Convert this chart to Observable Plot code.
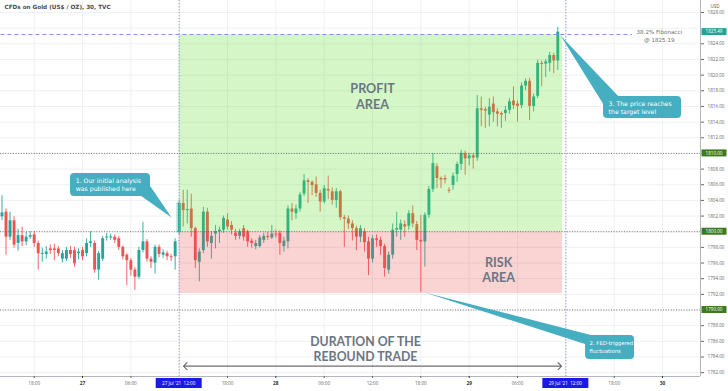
<!DOCTYPE html>
<html><head><meta charset="utf-8">
<script src="https://cdn.jsdelivr.net/npm/d3@7"></script>
<script src="https://cdn.jsdelivr.net/npm/@observablehq/plot@0.6"></script>
<style>html,body{margin:0;padding:0;background:#fff;}#chart{width:728px;height:391px;}</style>
</head><body><div id="chart"></div>
<script>
// ---- candle data (30-minute bars, Gold CFD) ----
const candleStart = "2021-07-26T14:00:00Z";
const candleMinutes = 30;
const opens = [
1801.9,1802.5,1799.3,1801.4,1798.5,1799.5,1798.7,1799.3,1799.6,1798.5,
1797.1,1797.1,1797.8,1797.8,1797.8,1796.5,1796.5,1797.6,1797.6,1797.2,
1797.6,1797.2,1798.5,1798.5,1795.1,1796.5,1799.2,1799.2,1799.3,1799.1,
1798.0,1797.0,1796.3,1795.1,1794.2,1797.6,1798.7,1796.5,1796.0,1798.0,
1797.0,1797.2,1796.8,1796.8,1799.9,
1803.6,1802.7,1802.9,1800.4,1796.1,1797.6,1802.5,1798.5,1799.7,1800.0,
1800.2,1801.5,1800.8,1799.8,1799.4,1800.4,1800.0,1798.8,1798.1,1798.1,1798.9,
1799.4,1799.2,1799.7,1799.8,1798.1,1798.7,1802.9,1802.3,1802.9,1804.8,
1806.5,1806.3,1806.0,1804.9,1803.8,1805.4,1805.1,1804.0,1805.1,1801.8,
1801.6,1801.0,1800.4,1799.3,1800.0,1798.7,
1796.5,1799.1,1798.9,1798.1,1795.1,1797.0,1800.2,1800.2,1800.9,1800.7,
1802.3,1800.9,1798.9,1798.7,1802.1,1805.4,1808.3,1806.8,1806.8,1805.3,
1805.9,1807.3,1808.6,1810.0,1809.3,1809.7,1809.4,1815.7,1815.6,1814.9,
1816.3,1815.3,1815.1,1815.1,1815.5,1816.7,1816.3,1816.1,1818.6,1819.2,
1816.0,1817.3,1821.5,1821.4,1821.5,1822.5,1821.8];
const highs = [
1804.6,1802.9,1802.5,1801.9,1800.3,1800.6,1799.9,1800.0,1800.0,1798.8,
1797.9,1798.1,1798.3,1798.4,1798.1,1797.6,1798.0,1798.1,1798.0,1797.8,
1798.0,1799.1,1800.0,1798.8,1797.5,1799.4,1799.8,1799.7,1799.6,1799.4,
1798.2,1797.2,1796.6,1795.4,1798.0,1801.2,1799.0,1796.8,1798.3,1798.3,
1797.7,1797.5,1797.1,1799.1,1804.0,
1805.3,1805.3,1804.8,1800.6,1797.8,1803.1,1803.0,1800.0,1800.8,1800.6,
1802.0,1802.3,1801.3,1800.3,1800.3,1800.8,1800.2,1799.1,1798.9,1799.5,1799.8,
1799.9,1800.8,1800.2,1800.1,1799.3,1803.3,1803.6,1803.4,1805.0,1807.3,
1806.8,1806.5,1807.0,1805.3,1805.9,1807.1,1805.6,1805.5,1805.3,1802.1,
1802.0,1801.4,1800.7,1800.8,1800.4,1799.3,
1799.5,1799.6,1799.3,1798.4,1797.4,1801.0,1802.5,1801.5,1801.4,1802.7,
1803.3,1801.3,1802.1,1802.4,1805.8,1810.0,1808.7,1807.0,1807.2,1805.6,
1807.5,1808.9,1810.4,1810.3,1810.0,1810.0,1817.4,1817.2,1815.9,1817.0,
1817.2,1815.7,1815.3,1816.0,1817.0,1818.5,1816.7,1819.0,1819.5,1819.6,
1817.6,1821.9,1821.8,1822.0,1822.9,1822.8,1826.1];
const lows = [
1801.4,1797.0,1798.9,1797.9,1797.5,1798.1,1798.2,1799.0,1798.0,1795.1,
1796.1,1796.5,1797.1,1796.3,1796.8,1796.0,1796.2,1796.6,1795.5,1796.4,
1796.3,1796.8,1798.0,1794.7,1793.8,1796.2,1798.8,1798.9,1798.5,1797.6,
1796.4,1793.1,1794.3,1792.5,1793.9,1797.3,1796.1,1795.3,1794.6,1796.7,
1796.6,1796.3,1796.2,1795.1,1799.6,
1800.6,1801.0,1799.3,1795.3,1793.6,1797.2,1798.0,1796.5,1797.8,1798.5,
1799.8,1800.2,1799.6,1798.9,1799.0,1798.8,1798.0,1797.9,1797.7,1797.9,1798.5,
1798.9,1799.0,1799.2,1797.0,1797.4,1797.8,1801.4,1801.6,1802.5,1804.5,
1803.6,1804.6,1804.4,1802.5,1803.6,1804.1,1803.4,1803.0,1801.4,1798.0,
1800.3,1798.8,1797.6,1798.6,1797.4,1794.4,
1796.0,1798.0,1797.0,1794.2,1794.6,1796.5,1799.3,1798.9,1799.3,1800.2,
1800.5,1797.6,1792.3,1795.5,1801.7,1805.0,1805.5,1805.5,1806.1,1804.9,
1805.3,1806.3,1807.8,1807.2,1808.4,1808.0,1809.0,1813.4,1813.2,1813.4,
1814.0,1813.4,1813.2,1814.1,1815.0,1815.6,1814.0,1815.7,1818.0,1814.2,
1815.3,1817.0,1818.5,1819.7,1820.4,1820.2,1820.6];
const closes = [
1802.4,1799.3,1801.4,1798.3,1799.5,1798.7,1799.3,1799.5,1798.5,1797.2,
1797.2,1797.4,1797.6,1797.6,1797.2,1797.2,1797.6,1797.1,1795.9,1797.4,
1796.8,1798.5,1798.7,1795.1,1797.2,1799.1,1799.3,1799.3,1798.9,1798.0,
1796.8,1796.3,1795.1,1794.2,1797.6,1798.7,1796.5,1796.1,1798.0,1797.1,
1797.3,1796.8,1796.7,1798.7,1803.6,
1802.7,1802.8,1800.4,1796.3,1797.4,1802.5,1798.7,1799.4,1800.0,1800.2,
1801.7,1800.6,1800.2,1799.4,1800.0,1799.3,1798.7,1798.5,1798.5,1799.2,1799.4,
1799.3,1799.7,1799.6,1798.5,1798.8,1802.9,1802.5,1802.9,1804.7,1806.5,
1806.3,1805.9,1804.9,1803.8,1805.5,1805.2,1804.0,1805.1,1801.8,1801.6,
1801.0,1800.4,1799.3,1800.4,1798.6,1796.5,
1799.1,1798.9,1798.1,1795.3,1797.0,1800.2,1800.4,1801.0,1800.6,1802.3,
1801.0,1798.9,1798.7,1802.1,1805.4,1808.7,1806.8,1806.6,1806.6,1805.2,
1807.1,1808.6,1810.0,1809.3,1809.7,1809.4,1815.7,1815.5,1815.4,1815.9,
1815.2,1815.0,1814.9,1815.5,1816.6,1816.1,1816.0,1818.6,1819.2,1816.0,
1817.2,1821.5,1821.4,1821.7,1822.5,1821.8,1825.49];

// ---- scale / axis settings ----
const xDomain = ["2021-07-26T13:49:00Z", "2021-07-30T04:43:00Z"];
const yDomain = [1781.51, 1829.53];
const priceTicks = d3.range(1782, 1829, 2);
const hiddenPriceLabels = [1826, 1810, 1800, 1790];          // covered by the price badges
const gridHours = [-6, 0, 6, 12, 18, 24, 30, 36, 42, 48, 54, 60, 66, 72]; // hours from 27 Jul 00:00 UTC
const hourTickHours = [-6, 6, 18, 30, 36, 42, 54, 66];
const dayTickHours = [0, 24, 48, 72];
const dayTickLabels = ["27", "28", "29", "30"];

// ---- levels & zones ----
const levelPrices = [1810, 1800, 1790];
const fibPrice = 1825.19;
const lastPrice = 1825.49;
const markerHours = [12, 60];
const zoneNames = ["profit", "risk"];
const zoneTop = [1825.19, 1800];
const zoneBottom = [1800, 1792.1];
const zoneFill = ["rgb(87,223,35)", "rgb(235,79,79)"];
const zoneStartHour = 12, zoneEndHour = 59.6;

// ---- annotations (hours from 27 Jul 00:00 UTC, price) ----
const bigLabels = [["PROFIT", "AREA"], ["RISK", "AREA"], ["DURATION OF THE", "REBOUND TRADE"]];
const bigLabelHour = [36.0, 51.65, 35.13];
const bigLabelPrice = [[1818.17, 1816.23], [1796.07, 1794.13], [1785.95, 1784.05]];
const bigLabelSize = [12.6, 12.6, 12.3];

const calloutText = [["1. Our initial analysis", "was published here"], ["2. FED-triggered", "fluctuations"], ["3. The price reaches", "the target level"]];
const calloutSize = [6.2, 5.3, 6.2];
const calloutBoxHours = [[-1.49, 8.44], [62.45, 68.53], [64.68, 74.36]];
const calloutBoxPrices = [[1807.44, 1804.50], [1786.75, 1783.68], [1817.27, 1814.46]];
const calloutTextHour = [-0.85, 62.95, 65.3];
const calloutTextPrice = [[1806.50, 1805.50], [1785.72, 1784.74], [1816.32, 1815.33]];
const calloutTailHours = [[7.2, 8.44, 11.05], [42.46, 64.31, 62.57], [59.34, 64.68, 66.67]];
const calloutTailPrices = [[1804.63, 1805.78, 1801.82], [1792.24, 1786.49, 1785.60], [1825.06, 1816.25, 1817.14]];

const arrowHours = [12.54, 59.47];
const arrowPrice = 1782.83;
const fibLineEndHour = 68.28;
const fibLabel = ["38.2% Fibonacci", "@ 1825.19"];
const fibLabelHour = 71.6, fibLabelPrice = [1825.45, 1824.5];
const title = "CFDs on Gold (US$ / OZ), 30, TVC";

// ---- helpers ----
const base = Date.UTC(2021, 6, 27);
const H = h => new Date(base + h * 3600e3);
const t0 = +new Date(candleStart);
const candles = opens.map((o, i) => ({
  t: new Date(t0 + i * candleMinutes * 60000),
  o, h: highs[i], l: lows[i], c: closes[i], up: closes[i] >= o
}));
const UP = "#26a69a", DOWN = "#ef5350";
const bodyEnd = d => Math.abs(d.c - d.o) < 0.13 ? d.o + (d.up ? 0.13 : -0.13) : d.c;
const CALLOUT_FONT = "'DejaVu Sans', sans-serif";

const zones = zoneNames.map((n, i) => ({x1: H(zoneStartHour), x2: H(zoneEndHour), y1: zoneBottom[i], y2: zoneTop[i], fill: zoneFill[i]}));
const labels = bigLabels.flatMap((ls, i) => ls.map((s, j) => ({x: H(bigLabelHour[i]), y: bigLabelPrice[i][j], text: s, size: bigLabelSize[i]})));
const boxes = calloutText.map((s, i) => ({x1: H(calloutBoxHours[i][0]), x2: H(calloutBoxHours[i][1]), y1: calloutBoxPrices[i][1], y2: calloutBoxPrices[i][0]}));
const lines = calloutText.flatMap((ls, i) => ls.map((s, j) => ({x: H(calloutTextHour[i]), y: calloutTextPrice[i][j], text: s, size: calloutSize[i]})));
const tails = calloutTailHours.flatMap((hs, i) => hs.map((h, j) => ({id: i, x: H(h), y: calloutTailPrices[i][j]})));
const fibLines = fibLabel.map((s, j) => ({x: H(fibLabelHour), y: fibLabelPrice[j], text: s}));
const arrowMid = (arrowHours[0] + arrowHours[1]) / 2;

const priceBadges = [
  {p: lastPrice, text: lastPrice.toFixed(2), fill: "#22a394"},
  ...levelPrices.map(p => ({p, text: p.toFixed(2), fill: "#3b7b1f"}))
];
const timeBadges = markerHours.map(h => ({h, text: d3.utcFormat("%-d %b '%y")(H(h)) + "  " + d3.utcFormat("%H:%M")(H(h))}));

function badges(index, scales, values, dims) {
  const {x, y} = scales;
  const g = d3.create("svg:g").attr("font-family", "'Open Sans', sans-serif");
  const xr = dims.width - dims.marginRight;
  const yb = dims.height - dims.marginBottom;
  g.append("text").attr("x", xr + 15).attr("y", 6).attr("dy", "0.35em").attr("text-anchor", "middle")
    .attr("font-size", 4.6).attr("fill", "#555").text("USD");
  for (const b of priceBadges) {
    const yy = y(b.p);
    g.append("rect").attr("x", xr + 1.5).attr("y", yy - 3.5).attr("width", 25).attr("height", 7).attr("fill", b.fill);
    g.append("text").attr("x", xr + 14).attr("y", yy).attr("dy", "0.36em").attr("text-anchor", "middle")
      .attr("font-size", 4.6).attr("fill", "#fff").text(b.text);
  }
  for (const b of timeBadges) {
    const xx = x(H(b.h));
    g.append("rect").attr("x", xx - 23).attr("y", yb + 2).attr("width", 46).attr("height", 10).attr("fill", "#1a1ae8");
    g.append("text").attr("x", xx).attr("y", yb + 7).attr("dy", "0.36em").attr("text-anchor", "middle")
      .attr("font-size", 4.6).attr("fill", "#fff").attr("xml:space", "preserve").text(b.text);
  }
  return g.node();
}

const chart = Plot.plot({
  width: 728, height: 391,
  marginLeft: 0, marginRight: 28, marginTop: 0, marginBottom: 15,
  style: {fontFamily: "'Open Sans', sans-serif", background: "#ffffff", overflow: "visible"},
  x: {type: "utc", domain: xDomain.map(d => new Date(d)), axis: null},
  y: {domain: yDomain, axis: null},
  marks: [
    Plot.ruleY(priceTicks, {stroke: "#eef0f4", strokeWidth: 1}),
    Plot.ruleX(gridHours.map(H), {stroke: "#eef0f4", strokeWidth: 1}),
    // candles
    Plot.ruleX(candles, {x: "t", y1: "l", y2: "h", stroke: d => d.up ? UP : DOWN, strokeWidth: 0.9}),
    Plot.ruleX(candles, {x: "t", y1: "o", y2: bodyEnd, stroke: d => d.up ? UP : DOWN, strokeWidth: 2.9}),
    // zones overlay
    Plot.rect(zones, {x1: "x1", x2: "x2", y1: "y1", y2: "y2", fill: "fill", fillOpacity: 0.25}),
    // selected candle marker
    Plot.rect([candles[44]], {x1: d => new Date(+d.t - 14 * 60000), x2: d => new Date(+d.t + 14 * 60000), y1: "o", y2: "c",
      fill: "none", stroke: "#36b3a8", strokeWidth: 0.8, strokeDasharray: "1,1"}),
    // levels
    Plot.ruleY(levelPrices, {stroke: "#555", strokeWidth: 0.8, strokeDasharray: "1,1.6"}),
    Plot.ruleY([fibPrice], {x1: H(-11), x2: H(fibLineEndHour), stroke: "#8b90ec", strokeWidth: 1.2, strokeDasharray: "4,3"}),
    Plot.ruleX(markerHours.map(H), {stroke: "#9a9edf", strokeWidth: 1, strokeDasharray: "1.4,1.6"}),
    Plot.text(fibLines, {x: "x", y: "y", text: "text", fontSize: 5.6, fill: "#707070", fontFamily: CALLOUT_FONT}),
    // big labels
    Plot.text(labels, {x: "x", y: "y", text: "text", fontSize: d => d.size, fill: "#6b7684", fontWeight: "bold",
      fontFamily: "Lato, sans-serif"}),
    // double-headed arrow
    Plot.arrow([0, 1], {x1: H(arrowMid), y1: arrowPrice, x2: i => H(arrowHours[i]), y2: arrowPrice,
      stroke: "#6f6f6f", strokeWidth: 1.2, headLength: 6, headAngle: 90}),
    // callouts
    Plot.line(tails, {x: "x", y: "y", z: "id", fill: "#45aec0", stroke: "none"}),
    Plot.rect(boxes, {x1: "x1", x2: "x2", y1: "y1", y2: "y2", fill: "#45aec0", rx: 4}),
    Plot.text(lines, {x: "x", y: "y", text: "text", fill: "#ffffff", fontSize: d => d.size, textAnchor: "start",
      fontFamily: CALLOUT_FONT}),
    // title
    Plot.text([title], {frameAnchor: "top-left", dx: 4, dy: 4, fontSize: 5.7, fontWeight: "bold", fill: "#4d4d4d",
      textAnchor: "start", fontFamily: CALLOUT_FONT}),
    // axes
    Plot.ruleY([yDomain[0]], {stroke: "#b2b5be"}),
    Plot.ruleX([new Date(xDomain[1])], {stroke: "#b2b5be"}),
    Plot.axisY({anchor: "right", ticks: priceTicks.filter(p => !hiddenPriceLabels.includes(p)), tickSize: 3, tickPadding: 4,
      fontSize: 4.6, tickFormat: d => d.toFixed(2), color: "#666", label: null}),
    Plot.axisX({ticks: hourTickHours.map(H), tickSize: 2, tickPadding: 3, fontSize: 4.6,
      tickFormat: d3.utcFormat("%H:%M"), color: "#666", label: null}),
    Plot.axisX({ticks: dayTickHours.map(H), tickSize: 2, tickPadding: 3, fontSize: 4.8, fontWeight: "bold",
      tickFormat: (d, i) => dayTickLabels[i], color: "#333", label: null}),
    badges
  ]
});
document.getElementById("chart").appendChild(chart);
</script></body></html>
